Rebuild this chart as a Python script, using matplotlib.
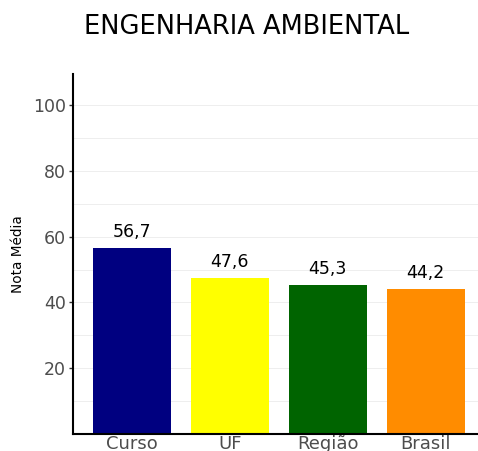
import matplotlib
matplotlib.use("Agg")
import matplotlib.pyplot as plt

categories = ["Curso", "UF", "Região", "Brasil"]
values = [56.7, 47.6, 45.3, 44.2]
labels = ["56,7", "47,6", "45,3", "44,2"]
colors = ["#000080", "#FFFF00", "#006400", "#FF8C00"]
yticks = [20, 40, 60, 80, 100]

plt.rcParams['font.family'] = ['DejaVu Sans']

W, H = 478, 451
fig = plt.figure(figsize=(W/100, H/100), dpi=100)
left, right, top, bottom = 73, 484.6, 74, 434
ax = fig.add_axes([left/W, 1-bottom/H, (right-left)/W, (bottom-top)/H])

x = list(range(1, len(categories)+1))
ax.bar(x, values, width=0.8, color=colors, zorder=2)
for xi, v, lab in zip(x, values, labels):
    ax.annotate(lab, (xi, v), xytext=(0, 16), textcoords="offset pixels",
                ha="center", va="center", fontsize=12.5, color="black")

ax.set_xlim(0.4, 4.6)
ax.set_ylim(0, 109.5)
ax.set_xticks(x)
ax.set_xticklabels(categories, fontsize=13, color="#4D4D4D")
ax.set_yticks(yticks)
ax.set_yticklabels([str(t) for t in yticks], fontsize=12.5, color="#4D4D4D")
ax.set_yticks([10, 30, 50, 70, 90], minor=True)
ax.grid(axis="y", which="both", color="#EBEBEB", linewidth=0.6, zorder=0)
ax.tick_params(axis="y", which="major", length=3, width=1, color="#333333", pad=2)
ax.tick_params(axis="y", which="minor", length=0)
ax.tick_params(axis="x", length=0, pad=1)
for s in ["top", "right"]:
    ax.spines[s].set_visible(False)
for s in ["left", "bottom"]:
    ax.spines[s].set_linewidth(1.5)
    ax.spines[s].set_color("black")
ax.set_ylabel("Nota Média", fontsize=9.8, color="black", labelpad=6)

fig.text(247/W, 1-27/H, "ENGENHARIA AMBIENTAL", ha="center", va="center", fontsize=18.5, color="black")

fig.savefig("out.png", dpi=100)
